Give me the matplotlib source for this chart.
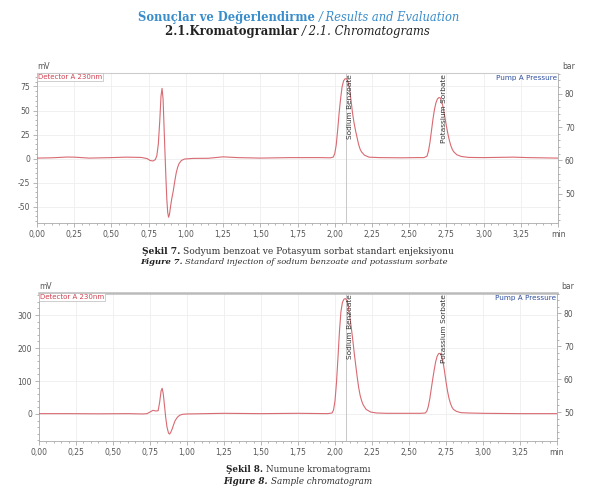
import matplotlib
matplotlib.use('Agg')
import matplotlib.pyplot as plt
from matplotlib.ticker import MultipleLocator, FuncFormatter

plt.rcParams['axes.unicode_minus'] = False

# ---- data (time in min, signal in mV) ----
std_time = [0.00, 0.10, 0.20, 0.25, 0.35, 0.50, 0.60, 0.70, 0.74, 0.76, 0.78, 0.795,
            0.805, 0.815, 0.825, 0.833, 0.840, 0.847, 0.853, 0.860, 0.866, 0.872,
            0.878, 0.884, 0.890, 0.897, 0.905, 0.915, 0.925, 0.935, 0.945, 0.955,
            0.97, 0.99, 1.05, 1.15, 1.25, 1.35, 1.50, 1.70, 1.90, 1.97, 1.99, 2.00,
            2.01, 2.02, 2.03, 2.04, 2.05, 2.06, 2.07, 2.08, 2.09, 2.10, 2.11, 2.12,
            2.13, 2.14, 2.15, 2.16, 2.17, 2.18, 2.20, 2.23, 2.30, 2.45, 2.55, 2.60,
            2.62, 2.63, 2.64, 2.65, 2.66, 2.67, 2.68, 2.69, 2.70, 2.71, 2.72, 2.73,
            2.74, 2.75, 2.76, 2.77, 2.78, 2.79, 2.80, 2.82, 2.85, 2.90, 3.00, 3.20,
            3.30, 3.50]
std_mv = [0.5, 0.8, 1.6, 1.5, 0.5, 1.0, 1.5, 1.2, 0.0, -2.0, -2.5, -1.0,
          3, 15, 40, 65, 73, 62, 35, 5, -20, -42,
          -56, -61, -58, -50, -42, -34, -24, -15, -9, -5,
          -2, -0.5, 0.2, 0.3, 1.8, 1.0, 0.5, 1.0, 1.0, 0.8, 1.5, 5,
          14, 30, 48, 63, 75, 81, 83, 83, 80, 72, 60, 47,
          37, 29, 22, 15, 10, 7, 3.5, 1.5, 1.0, 0.8, 1.0, 1.0,
          2.5, 8, 17, 29, 41, 51, 58, 62, 63.5, 63, 59, 52,
          43, 34, 26, 19, 13.5, 9.5, 7, 4, 2.2, 1.2, 1.0, 1.5,
          1.0, 0.5]

sample_time = [0.00, 0.20, 0.40, 0.60, 0.70, 0.73, 0.75, 0.77, 0.79, 0.805, 0.815,
               0.825, 0.832, 0.840, 0.848, 0.856, 0.865, 0.875, 0.882, 0.89, 0.90,
               0.91, 0.92, 0.935, 0.95, 0.97, 1.00, 1.25, 1.50, 1.75, 1.95, 1.98,
               1.99, 2.00, 2.01, 2.02, 2.03, 2.04, 2.05, 2.06, 2.07, 2.08, 2.09,
               2.10, 2.11, 2.12, 2.13, 2.14, 2.15, 2.16, 2.17, 2.18, 2.19, 2.21,
               2.24, 2.28, 2.35, 2.58, 2.61, 2.62, 2.63, 2.64, 2.65, 2.66, 2.67,
               2.68, 2.69, 2.70, 2.71, 2.72, 2.73, 2.74, 2.75, 2.76, 2.77, 2.78,
               2.79, 2.80, 2.82, 2.85, 2.90, 3.00, 3.25, 3.50]
sample_mv = [1, 1, 0.5, 1, 0, 1, 6, 11, 9, 10, 35,
             70, 78, 60, 25, -10, -40, -58, -61, -56, -45,
             -32, -20, -10, -4, -1, 0, 2, 1, 2, 1, 3,
             12, 40, 95, 170, 250, 310, 338, 348, 350, 345, 325,
             295, 262, 225, 185, 148, 112, 80, 56, 40, 28, 14,
             6, 3, 2, 2, 3, 8, 22, 45, 75, 105, 133,
             158, 175, 183, 184, 176, 158, 130, 98, 70, 48, 32,
             21, 14, 8, 4, 3, 2, 1, 1]

peak_names = ['Sodium Benzoate', 'Potassium Sorbate']
peak_rt_std = [2.075, 2.71]
peak_rt_sample = [2.075, 2.71]

line_col = '#d86a72'
tick_col = '#555555'
title_blue = '#3a8dcb'
narrow = ['Liberation Sans Narrow', 'DejaVu Sans']

fig = plt.figure(figsize=(6.08, 4.91), dpi=100)
W, H = 608, 491


def px_axes(left, top, right, bottom):
    return fig.add_axes([left / W, 1 - bottom / H, (right - left) / W, (bottom - top) / H])


def style_chart(ax, t, mv, ylim, yticks, yminor, rts, top_lw, top_col):
    ax.plot(t, mv, color=line_col, lw=0.8, zorder=3)
    ax.set_xlim(0, 3.5)
    ax.set_ylim(*ylim)
    ax.set_xticks([i * 0.25 for i in range(15)])
    ax.xaxis.set_minor_locator(MultipleLocator(0.05))
    ax.xaxis.set_major_formatter(FuncFormatter(
        lambda v, p: 'min' if v > 3.4 else f'{v:.2f}'.replace('.', ',')))
    ax.set_yticks(yticks)
    ax.yaxis.set_minor_locator(MultipleLocator(yminor))
    ax.tick_params(which='both', colors='#999999', labelcolor=tick_col, labelsize=5.5,
                   width=0.5, direction='out')
    ax.tick_params(which='major', length=3, pad=2)
    ax.tick_params(which='minor', length=1.5)
    ax.grid(which='major', color='#eeeeee', lw=0.6)
    ax.set_axisbelow(True)
    for s in ['left', 'bottom', 'right']:
        ax.spines[s].set_color('#aaaaaa')
        ax.spines[s].set_linewidth(0.6)
    ax.spines['top'].set_color(top_col)
    ax.spines['top'].set_linewidth(top_lw)
    # retention line of the first peak
    ax.axvline(rts[0], color='#c8c8c8', lw=0.7, zorder=2)
    for name, rt in zip(peak_names, rts):
        ax.text(rt + 0.005, ylim[1] - (ylim[1] - ylim[0]) * 0.01, name, rotation=90,
                ha='left', va='top', fontsize=5.3, color='#333333', zorder=4, family=narrow)
    ax.text(0.002, 0.993, 'Detector A 230nm', transform=ax.transAxes, ha='left', va='top',
            fontsize=5, color='#d0404f', family=narrow,
            bbox=dict(facecolor='white', edgecolor='#bbbbbb', lw=0.5, pad=0.7), zorder=5)
    ax.text(0.999, 0.985, 'Pump A Pressure', transform=ax.transAxes, ha='right', va='top',
            fontsize=5.2, color='#2f4f9f', family=narrow, zorder=5)
    ax.text(0.0, 1.012, 'mV', transform=ax.transAxes, ha='left', va='bottom',
            fontsize=5.5, color=tick_col)
    ax.text(1.008, 1.012, 'bar', transform=ax.transAxes, ha='left', va='bottom',
            fontsize=5.5, color=tick_col)
    for lab in ax.get_xticklabels() + ax.get_yticklabels():
        lab.set_family(narrow)

    rax = ax.twinx()
    rax.set_ylim(41.2, 86.2)
    rax.set_yticks([50, 60, 70, 80])
    rax.yaxis.set_minor_locator(MultipleLocator(2))
    rax.tick_params(which='both', colors='#999999', labelcolor=tick_col, labelsize=5.5,
                    width=0.5, direction='out')
    rax.tick_params(which='major', length=3, pad=2)
    rax.tick_params(which='minor', length=1.5)
    for s in rax.spines.values():
        s.set_visible(False)
    for lab in rax.get_yticklabels():
        lab.set_family(narrow)


ax1 = px_axes(37, 73, 558, 223)
style_chart(ax1, std_time, std_mv, (-67, 89), [-50, -25, 0, 25, 50, 75], 5,
            peak_rt_std, 0.8, '#cccccc')

ax2 = px_axes(39, 293, 557, 441)
style_chart(ax2, sample_time, sample_mv, (-82, 367), [0, 100, 200, 300], 20,
            peak_rt_sample, 1.8, '#bbbbbb')

# ---- mixed-style text lines (centred) ----
renderer = fig.canvas.get_renderer()


def text_line(y_px, parts, size, xc=304):
    objs = []
    for txt, weight, style, col in parts:
        objs.append(fig.text(0, 1 - y_px / H, txt, fontsize=size, fontweight=weight,
                             fontstyle=style, color=col, family='DejaVu Serif',
                             va='center', ha='left'))
    widths = [o.get_window_extent(renderer).width for o in objs]
    x = xc - sum(widths) / 2
    for o, w in zip(objs, widths):
        o.set_x(x / W)
        x += w


text_line(17, [('Sonuçlar ve Değerlendirme ', 'bold', 'normal', title_blue),
               ('/ Results and Evaluation', 'normal', 'italic', title_blue)], 8.3, 299)
text_line(32, [('2.1.Kromatogramlar ', 'bold', 'normal', '#222222'),
               ('/ 2.1. Chromatograms', 'normal', 'italic', '#222222')], 8.4, 298)

text_line(251, [('Şekil 7. ', 'bold', 'normal', '#222222'),
                ('Sodyum benzoat ve Potasyum sorbat standart enjeksiyonu', 'normal', 'normal', '#333333')],
          6.6, 298)
text_line(262, [('Figure 7. ', 'bold', 'italic', '#222222'),
                ('Standard injection of sodium benzoate and potassium sorbate', 'normal', 'italic', '#333333')],
          6.0, 294)
text_line(470, [('Şekil 8. ', 'bold', 'normal', '#222222'),
                ('Numune kromatogramı', 'normal', 'normal', '#333333')], 6.3, 298)
text_line(481, [('Figure 8. ', 'bold', 'italic', '#222222'),
                ('Sample chromatogram', 'normal', 'italic', '#333333')], 6.3, 298)

fig.savefig('out.png', dpi=100)
